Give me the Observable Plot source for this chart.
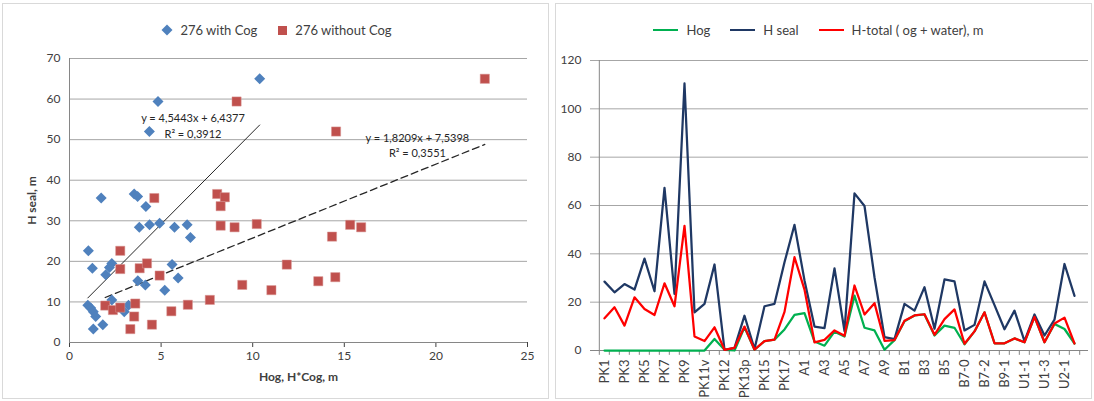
<!DOCTYPE html>
<html><head><meta charset="utf-8">
<script src="https://cdn.jsdelivr.net/npm/d3@7"></script>
<script src="https://cdn.jsdelivr.net/npm/@observablehq/plot@0.6"></script>
<style>
body{margin:0;background:#fff;font-family:Lato,"Liberation Sans",Arial,sans-serif;}
#wrap{position:relative;width:1094px;height:401px;overflow:hidden;background:#fff;}
.border{position:absolute;border:1px solid #d9d9d9;box-sizing:border-box;}
.legend{position:absolute;top:21px;height:18px;display:flex;align-items:center;justify-content:center;font-size:13px;color:#404040;white-space:nowrap;}
.legend .item{display:flex;align-items:center;margin:0 10px;}
.legend .sw{display:inline-block;margin-right:7px;}
.legend .ln{display:inline-block;width:25px;height:0;border-top:2.5px solid;margin-right:8px;}
.chart{position:absolute;top:45px;}
.chart svg{overflow:visible;}
g[aria-label="x-axis label"] text, g[aria-label="y-axis label"] text{font-weight:bold;font-size:12px;}
#right g[aria-label="x-axis tick label"] text{font-size:13px;}
</style></head>
<body>
<div id="wrap">
  <div class="border" style="left:2px;top:3px;width:547px;height:396px"></div>
  <div class="border" style="left:555px;top:3px;width:537px;height:396px"></div>
  <div class="legend" style="left:0;width:553px">
    <span class="item"><svg class="sw" width="12" height="12"><path d="M6 0.5L11.5 6L6 11.5L0.5 6Z" fill="#4F81BD"/></svg>276 with Cog</span>
    <span class="item"><svg class="sw" width="11" height="11"><rect x="1" y="1" width="9" height="9" fill="#C0504D"/></svg>276 without Cog</span>
  </div>
  <div class="legend" style="left:548px;width:541px">
    <span class="item"><span class="ln" style="border-color:#00B050"></span>Hog</span>
    <span class="item"><span class="ln" style="border-color:#1F3864"></span>H seal</span>
    <span class="item"><span class="ln" style="border-color:#FF0000"></span>H-total ( og + water), m</span>
  </div>
  <div id="left" class="chart" style="left:0"></div>
  <div id="right" class="chart" style="left:553px"></div>
</div>
<script>
// ---------- Left scatter data ----------
const withCogX = [10.38,4.83,4.36,1.73,3.53,3.72,4.17,3.81,4.37,4.92,5.73,6.42,6.6,1.03,1.25,2.31,2.18,1.98,3.73,4.14,5.6,5.93,5.2,2.31,1.0,1.16,1.3,1.43,1.82,1.3,2.99,3.22];
const withCogY = [65.0,59.4,52.0,35.6,36.6,36.0,33.5,28.4,29.0,29.4,28.4,29.0,25.9,22.6,18.3,19.5,18.5,16.7,15.2,14.2,19.2,15.9,12.9,10.5,9.2,8.5,7.6,6.4,4.4,3.3,7.6,9.2];
const withoutCogX = [9.12,4.63,8.06,8.48,8.25,22.67,14.55,2.77,2.77,3.83,4.23,4.92,1.95,2.37,2.77,3.59,3.53,3.32,4.5,5.56,6.46,7.66,8.25,9.01,10.22,11.86,9.43,11.02,14.33,15.32,15.92,13.58,14.51];
const withoutCogY = [59.4,35.6,36.6,35.8,33.6,65.0,52.0,22.6,18.1,18.3,19.5,16.5,9.1,8.0,8.6,9.6,6.4,3.3,4.4,7.7,9.3,10.5,28.8,28.4,29.2,19.2,14.2,12.9,26.1,29.0,28.4,15.1,16.1];
const trendWith = [4.5443, 6.4377];      // slope, intercept
const trendWithout = [1.8209, 7.5398];
const eqWith = ["y = 4,5443x + 6,4377", "R² = 0,3912"];
const eqWithout = ["y = 1,8209x + 7,5398", "R² = 0,3551"];
const leftXTicks = [0,5,10,15,20,25];
const leftYTicks = [0,10,20,30,40,50,60,70];

// ---------- Right line data ----------
const categories = ["PK1","PK2","PK3","PK4","PK5","PK6","PK7","PK8","PK9","PK10","PK11v","PK11n","PK12","PK13","PK13p","PK14","PK15","PK16","PK17","PK18","A1","A2","A3","A4","A5","A6","A7","A8","A9","A10","B1","B2","B3","B4","B5","B6","B7-0","B7-1","B7-2","B7-3","B9-1","B9-2","U1-1","U1-2","U1-3","U1-4","U2-1","U2-2"];
const hog =    [0,0,0,0,0,0,0,0,0,0,0,4.8,0.3,0,9.6,0.3,3.9,4.5,8.7,14.7,15.5,3.7,2.0,7.8,5.8,22.7,9.4,8.3,0.3,4.3,12.1,14.5,14.9,6.2,10.3,9.4,2.6,7.9,15.8,3.0,3.0,5.0,3.4,13.9,3.4,11.0,8.9,2.9];
const hSeal =  [28.5,24.1,27.5,25.2,38.0,24.5,67.3,23.4,110.5,15.8,19.3,35.6,0.3,1.1,14.4,0.6,18.3,19.3,36.5,52.0,29.0,9.9,9.3,34.0,8.0,65.0,59.8,30.3,5.5,4.7,19.3,16.5,26.2,9.0,29.4,28.6,8.3,10.6,28.6,18.8,8.8,16.5,3.9,14.9,6.2,12.8,35.8,22.6];
const hTotal = [13.3,17.9,10.3,22.0,17.2,14.7,27.8,18.3,51.6,5.8,3.9,9.6,0.3,1.1,9.9,0.4,3.9,4.5,16.0,38.6,25.2,3.4,4.4,8.3,6.1,26.9,14.9,19.6,4.0,4.3,12.3,14.5,15.0,6.5,13.0,17.0,2.8,7.9,15.8,3.0,3.0,5.0,3.4,13.9,3.4,11.2,13.6,2.9];
const rightYTicks = [0,20,40,60,80,100,120];

const FONT = 'Lato,"Liberation Sans",Arial,sans-serif';
const GRID = "#a6a6a6";

const diamondSym = {draw(ctx, size){const r=Math.sqrt(size/Math.PI);ctx.moveTo(0,-r);ctx.lineTo(r,0);ctx.lineTo(0,r);ctx.lineTo(-r,0);ctx.closePath();}};
const squareSym = {draw(ctx, size){const r=Math.sqrt(size/Math.PI);ctx.rect(-r,-r,2*r,2*r);}};

const withRows = withCogX.map((x,i)=>({x, y: withCogY[i]}));
const withoutRows = withoutCogX.map((x,i)=>({x, y: withoutCogY[i]}));
const ext1 = d3.extent(withCogX), ext2 = d3.extent(withoutCogX);
const tl1 = ext1.map(x=>({x, y: trendWith[0]*x + trendWith[1]}));
const tl2 = ext2.map(x=>({x, y: trendWithout[0]*x + trendWithout[1]}));

const leftPlot = Plot.plot({
  width: 553, height: 356,
  marginLeft: 69, marginRight: 26, marginTop: 13, marginBottom: 59,
  style: {fontFamily: FONT, fontSize: "12px", color: "#404040", background: "transparent"},
  x: {domain: [0,25], ticks: leftXTicks, tickSize: 5, tickPadding: 4, label: "Hog, H*Cog, m", labelArrow: false, labelAnchor: "center", labelOffset: 38},
  y: {domain: [0,70], ticks: leftYTicks, tickSize: 0, tickPadding: 9, label: "H seal, m", labelArrow: false, labelAnchor: "center", labelOffset: 42},
  marks: [
    Plot.ruleY(leftYTicks.filter(d=>d>0), {stroke: GRID, strokeWidth: 1}),
    Plot.ruleY([0], {stroke: "#868686"}),
    Plot.ruleX([0], {stroke: "#868686"}),
    Plot.line(tl1, {x: "x", y: "y", stroke: "#262626", strokeWidth: 1}),
    Plot.line(tl2, {x: "x", y: "y", stroke: "#262626", strokeWidth: 1.3, strokeDasharray: "7,4"}),
    Plot.dot(withRows, {x: "x", y: "y", r: 5.5, symbol: diamondSym, fill: "#4F81BD", stroke: "none"}),
    Plot.dot(withoutRows, {x: "x", y: "y", r: 4.6, symbol: squareSym, fill: "#C0504D", stroke: "#d99694", strokeWidth: 0.5}),
    Plot.text([eqWith[0]], {x: 6.74, y: 55.2, text: d=>d, fill: "#262626", fontSize: 11}),
    Plot.text([eqWith[1]], {x: 6.74, y: 51.2, text: d=>d, fill: "#262626", fontSize: 11}),
    Plot.text([eqWithout[0]], {x: 18.99, y: 50.4, text: d=>d, fill: "#262626", fontSize: 11}),
    Plot.text([eqWithout[1]], {x: 18.99, y: 46.5, text: d=>d, fill: "#262626", fontSize: 11})
  ]
});
document.getElementById("left").appendChild(leftPlot);

// ---------- right ----------
const rows = categories.map((c,i)=>({cat: c, hog: hog[i], seal: hSeal[i], total: hTotal[i]}));
const RW = 541, RML = 37, RMR = 6;
const step = (RW - RML - RMR) / categories.length;
const labeled = categories.filter((d,i)=>i%2===0);

const rightPlot = Plot.plot({
  width: RW, height: 356,
  marginLeft: RML, marginRight: RMR, marginTop: 15, marginBottom: 51,
  style: {fontFamily: FONT, fontSize: "12px", color: "#404040", background: "transparent"},
  x: {type: "point", domain: categories, padding: 0.5, ticks: labeled, tickRotate: -90, tickSize: 0, tickPadding: 9, label: null},
  y: {domain: [0,120], ticks: rightYTicks, tickSize: 0, tickPadding: 9, label: null},
  marks: [
    Plot.ruleY(rightYTicks.filter(d=>d>0), {stroke: GRID, strokeWidth: 1}),
    Plot.ruleY([0], {stroke: "#868686"}),
    Plot.ruleX([categories[0]], {x: d=>d, y1: 0, y2: 120, dx: -step/2, stroke: "#868686"}),
    Plot.ruleX(categories, {x: d=>d, y1: 0, y2: -2, dx: -step/2, stroke: "#868686"}),
    Plot.ruleX([categories[categories.length-1]], {x: d=>d, y1: 0, y2: -2, dx: step/2, stroke: "#868686"}),
    Plot.line(rows, {x: "cat", y: "hog", stroke: "#00B050", strokeWidth: 2.25}),
    Plot.line(rows, {x: "cat", y: "seal", stroke: "#1F3864", strokeWidth: 2.25}),
    Plot.line(rows, {x: "cat", y: "total", stroke: "#FF0000", strokeWidth: 2.25})
  ]
});
document.getElementById("right").appendChild(rightPlot);
</script>
</body></html>
